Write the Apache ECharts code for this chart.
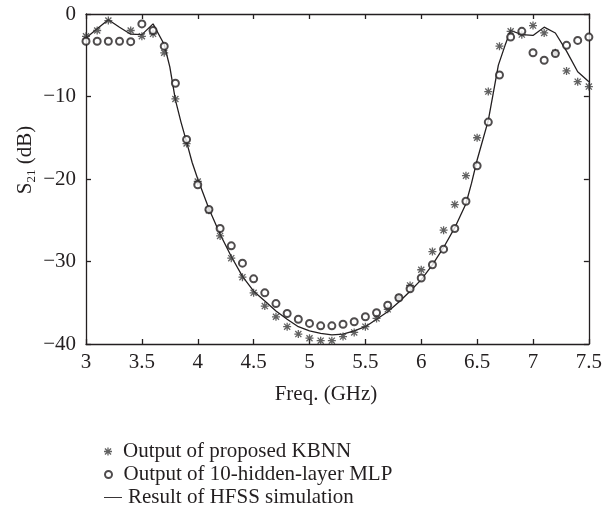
<!DOCTYPE html>
<html>
<head>
<meta charset="utf-8">
<script src="https://cdn.jsdelivr.net/npm/echarts@6/dist/echarts.min.js"></script>
<style>html,body{margin:0;padding:0;background:#fff;}#c{width:605px;height:512px;}</style>
</head>
<body>
<div id="c"></div>
<script>
const freq = [3.0,3.1,3.2,3.3,3.4,3.5,3.6,3.7,3.8,3.9,4.0,4.1,4.2,4.3,4.4,4.5,4.6,4.7,4.8,4.9,5.0,5.1,5.2,5.3,5.4,5.5,5.6,5.7,5.8,5.9,6.0,6.1,6.2,6.3,6.4,6.5,6.6,6.7,6.8,6.9,7.0,7.1,7.2,7.3,7.4,7.5];
const kbnn = [-2.7,-2.0,-0.8,null,-2.0,-2.7,-2.4,-4.7,-10.3,-15.7,-20.3,-23.8,-26.9,-29.6,-31.9,-33.8,-35.4,-36.7,-37.9,-38.8,-39.3,-39.6,-39.6,-39.1,-38.6,-37.9,-36.9,-35.8,-34.4,-32.9,-31.0,-28.8,-26.2,-23.1,-19.6,-15.0,-9.4,-3.9,-2.1,-2.5,-1.4,-2.3,-4.7,-6.9,-8.2,-8.8];
const mlp = [-3.3,-3.3,-3.3,-3.3,-3.35,-1.2,-2.0,-3.9,-8.4,-15.2,-20.7,-23.7,-26.0,-28.1,-30.2,-32.1,-33.8,-35.1,-36.3,-37.0,-37.5,-37.8,-37.8,-37.6,-37.3,-36.7,-36.2,-35.3,-34.4,-33.3,-32.0,-30.4,-28.5,-26.0,-22.7,-18.4,-13.1,-7.4,-2.8,-2.1,-4.7,-5.6,-4.8,-3.8,-3.2,-2.8];
const hfssFreq = [3.0,3.1,3.2,3.3,3.4,3.5,3.6,3.7,3.75,3.8,3.85,3.9,3.95,4.0,4.1,4.2,4.3,4.4,4.5,4.6,4.7,4.8,4.9,5.0,5.1,5.2,5.3,5.4,5.5,5.6,5.7,5.8,5.9,6.0,6.1,6.2,6.3,6.4,6.45,6.5,6.6,6.69,6.75,6.8,6.9,7.0,7.1,7.2,7.3,7.4,7.5];
const hfss = [-2.9,-1.8,-0.7,-1.6,-2.45,-2.5,-1.2,-3.7,-6.4,-10.4,-13.1,-15.5,-18.0,-20.0,-23.6,-26.7,-29.4,-31.8,-33.6,-34.8,-36.0,-37.0,-37.9,-38.4,-38.7,-38.9,-38.8,-38.4,-37.9,-37.0,-36.1,-34.9,-33.6,-32.2,-30.4,-28.3,-25.9,-23.0,-20.5,-17.7,-12.9,-6.2,-3.8,-2.0,-2.5,-2.6,-1.6,-2.3,-4.5,-7.0,-8.2];
const xTicks = [3,3.5,4,4.5,5,5.5,6,6.5,7,7.5];
const yTicks = [-40,-30,-20,-10,0];
const names = ['Output of proposed KBNN','Output of 10-hidden-layer MLP','Result of HFSS simulation'];

const INK = '#231f20';
const FONT = '"Liberation Serif", "DejaVu Serif", serif';
const FS = 21;
const STAR = 'path://M0 4.2H10V5.8H0Z M4.2 0H5.8V10H4.2Z M1.77 0.63L9.37 8.23L8.23 9.37L0.63 1.77Z M9.37 1.77L1.77 9.37L0.63 8.23L8.23 0.63Z';
const DASH = 'path://M0 0H20V1H0Z';

const pairs = (xs, ys) => xs.map((x, i) => [x, ys[i]]).filter(p => p[1] !== null);
const fmtY = v => (v < 0 ? '\u2212' + (-v) : String(v));

const xStep = xTicks[1] - xTicks[0];
const yStep = yTicks[1] - yTicks[0];
const axisCommon = {
  axisLine: { show: true, onZero: false, lineStyle: { color: INK, width: 1.3 } },
  axisTick: { show: true, inside: true, length: 5, lineStyle: { color: INK, width: 1.3 } },
  splitLine: { show: false }
};
const legendText = { color: INK, fontFamily: FONT, fontSize: FS, padding: [0, 0, 0, 1] };

const chart = echarts.init(document.getElementById('c'), null, { renderer: 'canvas' });
chart.setOption({
  animation: false,
  backgroundColor: '#fff',
  grid: { left: 86, right: 12, top: 14, bottom: 168, containLabel: false },
  xAxis: [
    Object.assign({ type: 'value', position: 'bottom', min: xTicks[0], max: xTicks[xTicks.length - 1], interval: xStep,
      axisLabel: { color: INK, fontFamily: FONT, fontSize: FS, margin: 8 } }, axisCommon),
    Object.assign({ type: 'value', position: 'top', min: xTicks[0], max: xTicks[xTicks.length - 1], interval: xStep,
      axisLabel: { show: false } }, axisCommon)
  ],
  yAxis: [
    Object.assign({ type: 'value', position: 'left', min: yTicks[0], max: yTicks[yTicks.length - 1], interval: yStep,
      axisLabel: { color: INK, fontFamily: FONT, fontSize: FS, margin: 10, formatter: fmtY } }, axisCommon),
    Object.assign({ type: 'value', position: 'right', min: yTicks[0], max: yTicks[yTicks.length - 1], interval: yStep,
      axisLabel: { show: false } }, axisCommon)
  ],
  legend: [
    { data: [{ name: names[0], icon: STAR }], left: 99, top: 436, itemWidth: 18, itemHeight: 8, itemGap: 0,
      textStyle: legendText, selectedMode: false },
    { data: [{ name: names[1], icon: 'emptyCircle' }], left: 99, top: 459, itemWidth: 18, itemHeight: 7, itemGap: 0,
      textStyle: legendText, selectedMode: false },
    { data: [{ name: names[2], icon: DASH }], left: 99, top: 482, itemWidth: 18, itemHeight: 8, itemGap: 0,
      textStyle: legendText, selectedMode: false }
  ],
  graphic: [
    { type: 'text', x: 326, y: 394, style: { text: 'Freq. (GHz)', fill: INK, font: FS + 'px ' + FONT, align: 'center', verticalAlign: 'middle' } },
    { type: 'text', x: 25, y: 160, rotation: Math.PI / 2,
      style: { text: '{a|S}{b|21}{a| (dB)}', align: 'center', verticalAlign: 'middle', fill: INK,
        rich: { a: { fontFamily: FONT, fontSize: FS, lineHeight: 26, verticalAlign: 'middle', fill: INK },
                b: { fontFamily: FONT, fontSize: 13, lineHeight: 13, verticalAlign: 'bottom', fill: INK } } } }
  ],
  series: [
    { name: names[0], type: 'scatter', data: pairs(freq, kbnn), symbol: STAR, symbolSize: 8,
      itemStyle: { color: '#3a3a3a' }, z: 3 },
    { name: names[1], type: 'scatter', data: pairs(freq, mlp), symbol: 'emptyCircle', symbolSize: 7,
      itemStyle: { color: INK, borderColor: INK, borderWidth: 1.2 }, z: 4 },
    { name: names[2], type: 'line', data: pairs(hfssFreq, hfss), symbol: 'none', showSymbol: false,
      lineStyle: { color: INK, width: 1.3 }, itemStyle: { color: INK }, z: 2 }
  ]
});
</script>
</body>
</html>
